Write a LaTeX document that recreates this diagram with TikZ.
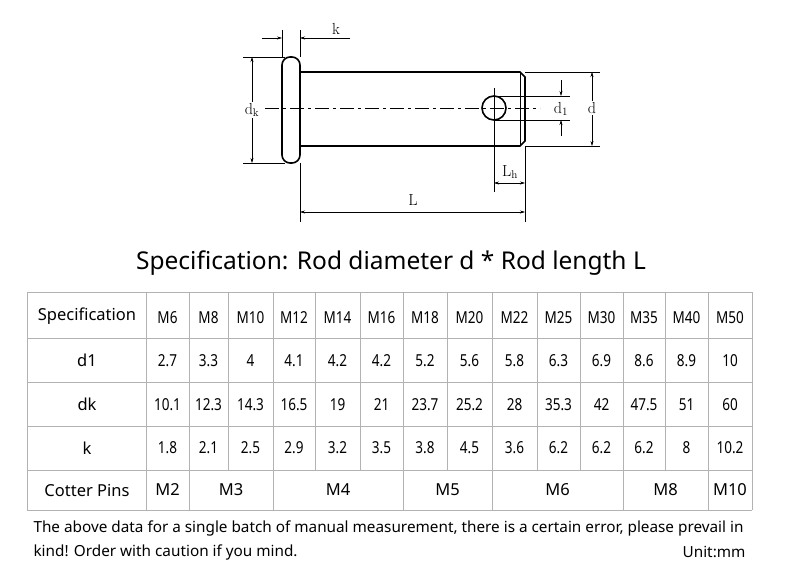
\documentclass[tikz,border=0pt]{standalone}
\usepackage{fontspec}
\setsansfont{Noto Sans}
\usetikzlibrary{arrows.meta}
\begin{document}
\begin{tikzpicture}[x=1pt,y=-1pt,
  part/.style={line width=1.6pt},
  thin/.style={line width=0.5pt},
  dim/.style={line width=0.5pt,-{Stealth[length=5pt,width=3pt]}},
  dims/.style={line width=0.5pt,{Stealth[length=5pt,width=3pt]}-{Stealth[length=5pt,width=3pt]}},
  lab/.style={font=\rmfamily\fontsize{16}{18}\selectfont,fill=white,inner sep=1pt},
  cell/.style={font=\sffamily\fontsize{16.5}{18}\selectfont},
  note/.style={font=\sffamily\fontsize{15.3}{18}\selectfont},
  grid/.style={draw=gray!60,line width=0.8pt}]
\useasboundingbox (0,0) rectangle (790,578);
% pin
\draw[part,rounded corners=8pt] (282,57) rectangle (300,163);
\draw[part] (300,72) -- (520,72) -- (525,77) -- (525,141) -- (520,146) -- (300,146);
\draw[thin] (520,72) -- (520,146);
\node[draw,part,circle,minimum size=24pt,inner sep=0] (hole) at (494,108) {};
\draw[thin,dash pattern=on 14pt off 4pt on 3pt off 4pt] (265,108) -- (540,108);
% k
\draw[thin] (282,57) -- (282,30) (300,57) -- (300,30);
\coordinate (k1) at (282,38); \coordinate (k2) at (300,38);
\draw[dim] (262,38) -- (k1); \draw[dim] (350,38) -- (k2);
\node[lab] (klab) at (336,29) {k};
% dk
\draw[thin] (243,57) -- (285,57) (243,163) -- (285,163);
\coordinate (dk1) at (252,57); \coordinate (dk2) at (252,163);
\draw[dims] (dk1) -- (dk2);
\node[lab] (dklab) at (252,110) {d\textsubscript{k}};
% d
\draw[thin] (525,72) -- (600,72) (525,146) -- (600,146);
\coordinate (d1a) at (592,72); \coordinate (d1b) at (592,146);
\draw[dims] (d1a) -- (d1b);
\node[lab] (dlab) at (592,108) {d};
% d1
\draw[thin] (494,96) -- (570,96) (494,120) -- (570,120);
\coordinate (h1) at (561,96); \coordinate (h2) at (561,120);
\draw[dim] (561,80) -- (h1); \draw[dim] (561,136) -- (h2);
\node[lab] (d1lab) at (561,109) {d\textsubscript{1}};
% Lh
\draw[thin] (494,88) -- (494,192) (525,146) -- (525,222);
\coordinate (lh1) at (494,183); \coordinate (lh2) at (525,183);
\draw[dims] (lh1) -- (lh2);
\node[lab] (lhlab) at (510,172) {L\textsubscript{h}};
% L
\draw[thin] (300,163) -- (300,222);
\coordinate (L1) at (300,212); \coordinate (L2) at (525,212);
\draw[dims] (L1) -- (L2);
\node[lab] (Llab) at (413,200) {L};
% title
\node[font=\sffamily\fontsize{24.5}{28}\selectfont] (title) at (391,263) {Specification: Rod diameter d * Rod length L};
% table
\foreach \y in {292,338,382,426,470,510} \draw[grid] (27,\y) -- (752,\y);
\draw[grid] (27,292) -- (27,510) (752,292) -- (752,510) (146,292) -- (146,510);
\foreach \x in {189,228,273,315,360,403,447,492,537,580,623,665,708} \draw[grid] (\x,292) -- (\x,470);
\foreach \x in {189,273,403,492,623,708} \draw[grid] (\x,470) -- (\x,510);
\node[cell] (h0) at (87,316) {Specification};
\node[cell] (h1r) at (87,360) {d1};
\node[cell] (h2r) at (87,404) {dk};
\node[cell] (h3r) at (87,448) {k};
\node[cell] (h4r) at (87,490) {Cotter Pins};
\newcommand\prow[2]{%
 \foreach \t [count=\i] in {#2} {%
  \pgfmathsetmacro\xa{{146,189,228,273,315,360,403,447,492,537,580,623,665,708}[\i-1]}%
  \pgfmathsetmacro\xb{{189,228,273,315,360,403,447,492,537,580,623,665,708,752}[\i-1]}%
  \node[cell,xscale=0.82] at ({(\xa+\xb)/2},#1) {\t};}}
\prow{318}{M6,M8,M10,M12,M14,M16,M18,M20,M22,M25,M30,M35,M40,M50}
\prow{361}{2.7,3.3,4,4.1,4.2,4.2,5.2,5.6,5.8,6.3,6.9,8.6,8.9,10}
\prow{405}{10.1,12.3,14.3,16.5,19,21,23.7,25.2,28,35.3,42,47.5,51,60}
\prow{448}{1.8,2.1,2.5,2.9,3.2,3.5,3.8,4.5,3.6,6.2,6.2,6.2,8,10.2}
\node[cell] (c1) at (167.5,490) {M2};
\node[cell] (c2) at (231,490) {M3};
\node[cell] (c3) at (338,490) {M4};
\node[cell] (c4) at (447.5,490) {M5};
\node[cell] (c5) at (557.5,490) {M6};
\node[cell] (c6) at (665.5,490) {M8};
\node[cell] (c7) at (730,490) {M10};
\node[note,anchor=west] (n1) at (30,528) {The above data for a single batch of manual measurement, there is a certain error, please prevail in};
\node[note,anchor=west] (n2) at (30,552) {kind! Order with caution if you mind.};
\node[note,anchor=east] (n3) at (749,552) {Unit:mm};
\end{tikzpicture}
\end{document}
